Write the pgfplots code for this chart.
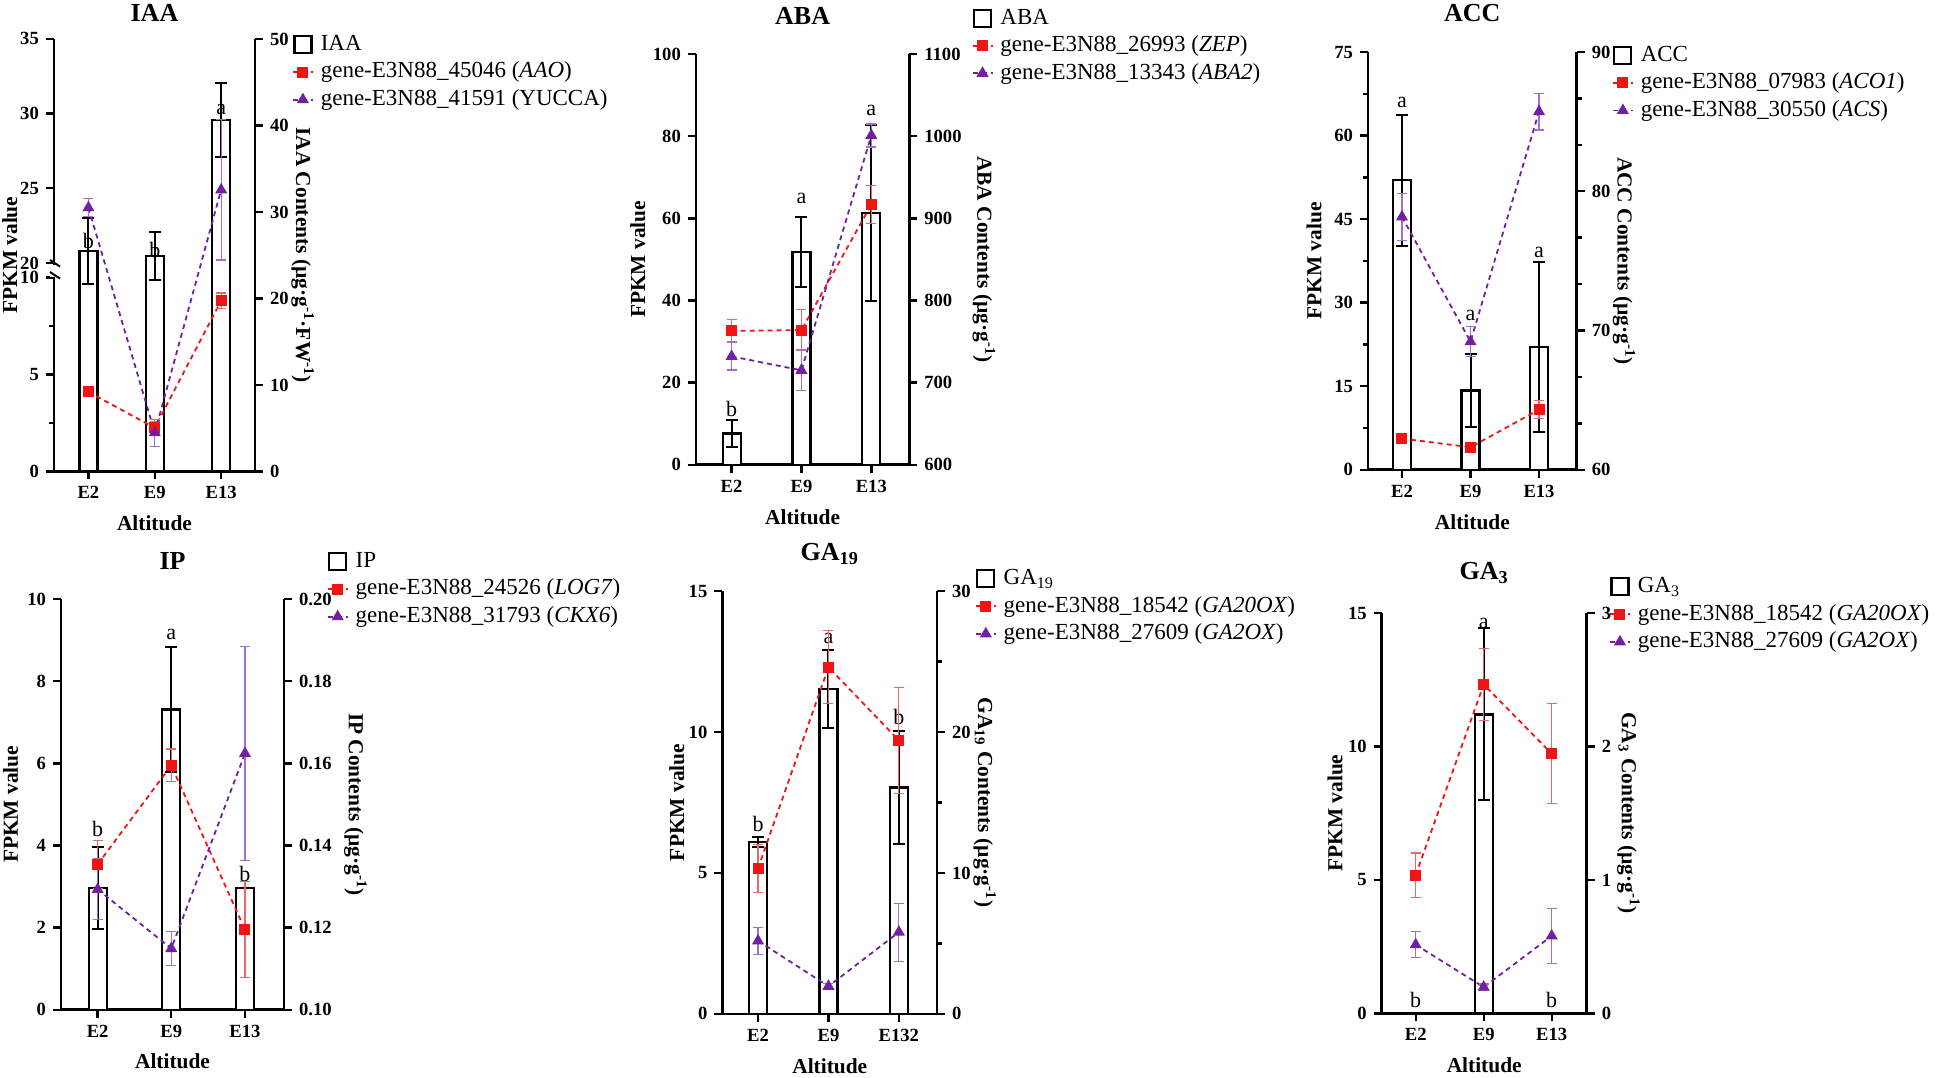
\documentclass[border=0pt]{standalone}
\usepackage{pgfplots}
\pgfplotsset{compat=1.18}
\usepackage{fontspec}
\setmainfont{Liberation Serif}
\definecolor{myred}{RGB}{240,20,20}
\definecolor{myredl}{RGB}{228,105,105}
\definecolor{mypur}{RGB}{112,32,160}
\definecolor{mypurl}{RGB}{160,110,205}
\tikzset{letter/.style={font=\fontsize{11}{13}\selectfont, anchor=center, inner sep=0pt}}
\pgfplotsset{
  base/.style={
    scale only axis,
    axis line style={line width=1.3pt},
    tick style={line width=1.2pt, black},
    major tick length=4pt, minor tick length=2.5pt,
    tick align=outside,
    tick label style={font=\fontsize{9.3}{10}\selectfont\bfseries},
    /pgf/number format/assume math mode=true,
    /pgf/number format/set thousands separator={},
    label style={font=\fontsize{10.7}{12}\selectfont\bfseries},
    title style={font=\fontsize{13}{14}\selectfont\bfseries, at={(0.5,1)}, anchor=center},
    xtick={0,1,2},
  },
  barax/.style={base, axis x line*=bottom, axis y line*=right,
    xticklabels={E2,E9,E13}, xlabel=Altitude,
    xlabel style={at={(axis description cs:0.5,0)}, anchor=center, yshift=-26pt},
    legend style={draw=none, fill=none, anchor=north west, inner sep=0pt, outer sep=0pt,
      font=\fontsize{11.5}{13}\selectfont, row sep=1.5pt,
      nodes={inner sep=0.5pt, text height=8.5pt, text depth=2.75pt},
      /tikz/every odd column/.append style={column sep=3pt}},
    legend cell align=left,
  },
  lineax/.style={base, axis x line=none, axis y line*=left, ylabel={FPKM value}},
  barplot/.style={ybar, bar width=9pt, draw=black, fill=white, line width=1.1pt,
    legend image code/.code={\draw[black, line width=1.1pt, fill=white] (0.75pt,-4.25pt) rectangle (9.25pt,4.25pt);},
    error bars/y dir=both, error bars/y explicit,
    error bars/error bar style={line width=1pt, black},
    error bars/error mark options={rotate=90, mark size=3pt, line width=1pt, black}},
  redline/.style={color=myred, line width=0.9pt, dash pattern=on 2.5pt off 2pt, mark=square*, mark size=2.3pt, mark options={solid, fill=myred}, sharp plot,
    legend image code/.code={\draw[mark repeat=2, mark phase=2, ##1] plot coordinates {(0pt,0pt) (5pt,0pt) (10pt,0pt)};}},
  purline/.style={color=mypur, line width=0.9pt, dash pattern=on 2.5pt off 2pt, mark=triangle*, mark size=2.6pt, mark options={solid, fill=mypur}, sharp plot,
    legend image code/.code={\draw[mark repeat=2, mark phase=2, ##1] plot coordinates {(0pt,0pt) (5pt,0pt) (10pt,0pt)};}},
  rederr/.style={error bars/y dir=both, error bars/y explicit,
    error bars/error bar style={solid, line width=0.6pt, myredl},
    error bars/error mark options={solid, rotate=90, mark size=2.5pt, line width=0.6pt, myredl}},
  purerr/.style={error bars/y dir=both, error bars/y explicit,
    error bars/error bar style={solid, line width=0.6pt, mypurl},
    error bars/error mark options={solid, rotate=90, mark size=2.5pt, line width=0.6pt, mypurl}},
}
\begin{document}
\begin{tikzpicture}
\path[use as bounding box] (0,0) rectangle (972pt,538.5pt);

% ================= IAA =================
\begin{axis}[barax, at={(26.95pt,302.75pt)}, anchor=south west, width=100.55pt, height=216.3pt,
  xmin=-0.52, xmax=2.51, ymin=0, ymax=50, ytick={0,10,20,30,40,50},
  title={IAA}, title style={yshift=7pt},
  ylabel={IAA Contents (µg·g\textsuperscript{-1}·FW\textsuperscript{-1})},
  ylabel style={at={(axis description cs:1.237,0.5)}, anchor=center, rotate=180},
  legend style={at={(axis description cs:1.184,1.015)}}]
\addplot[barplot] table[x=x,y=y,y error=e]{
x y e
0 25.5 3.8
1 24.9 2.8
2 40.6 4.3
};
\addlegendentry{IAA}
\addlegendimage{redline}\addlegendentry{gene-E3N88\_45046 (\textit{AAO})}
\addlegendimage{purline}\addlegendentry{gene-E3N88\_41591 (YUCCA)}
\node[letter] at (axis cs:0,26.6) {b};
\node[letter] at (axis cs:1,25.6) {b};
\node[letter] at (axis cs:2,41.8) {a};
\end{axis}
% left axis is broken between 10 and 20: y coord trafo maps the two segments;
% error bars are added after the trafo, so errors of the upper segment are given
% in its compressed scale (x0.770): 0.6 -> 0.46, 4.7 -> 3.62
\begin{axis}[lineax, at={(26.95pt,302.75pt)}, anchor=south west, width=100.55pt, height=216.3pt,
  xmin=-0.52, xmax=2.51, ymin=0, ymax=35,
  y coord trafo/.code={\pgfmathparse{ifthenelse(#1<15,#1,10.747+(#1-20)*0.770)}},
  y coord inv trafo/.code={\pgfmathparse{ifthenelse(#1<10.747,#1,20+(#1-10.747)/0.770)}},
  ytick={0,5,10,20,25,30,35}, yticklabels={0,5,10,20,25,30,35}, minor ytick={2.5,7.5},
  ylabel style={at={(axis description cs:-0.219,0.5)}, anchor=center}]
\addplot[redline, rederr] table[x=x,y=y,y error=e]{
x y e
0 4.1 0.2
1 2.25 0.3
2 8.8 0.4
};
\addplot[purline, purerr] table[x=x,y=y,y error=e]{
x y e
0 23.7 0.46
1 2.0 0.7
2 24.9 3.62
};
\end{axis}
\fill[white] (25pt,400.2pt) rectangle (29pt,406.2pt);
\draw[line width=1pt] (25pt,408.5pt) -- (30pt,405.2pt);
\draw[line width=1pt] (25pt,402.5pt) -- (30pt,399.2pt);

% ================= ABA =================
\begin{axis}[barax, at={(347.95pt,306.1pt)}, anchor=south west, width=106.7pt, height=205.35pt,
  xmin=-0.511, xmax=2.544, ymin=600, ymax=1100, ytick={600,700,800,900,1000,1100},
  title={ABA}, title style={yshift=13pt},
  ylabel={ABA Contents (µg·g\textsuperscript{-1})},
  ylabel style={at={(axis description cs:1.35,0.5)}, anchor=center, rotate=180},
  legend style={at={(axis description cs:1.292,1.117)}}]
\addplot[barplot] table[x=x,y=y,y error=e]{
x y e
0 638 16.5
1 859 43
2 907 107
};
\addlegendentry{ABA}
\addlegendimage{redline}\addlegendentry{gene-E3N88\_26993 (\textit{ZEP})}
\addlegendimage{purline}\addlegendentry{gene-E3N88\_13343 (\textit{ABA2})}
\node[letter] at (axis cs:0,668) {b};
\node[letter] at (axis cs:1,924) {a};
\node[letter] at (axis cs:2,1032) {a};
\end{axis}
\begin{axis}[lineax, at={(347.95pt,306.1pt)}, anchor=south west, width=106.7pt, height=205.35pt,
  xmin=-0.511, xmax=2.544, ymin=0, ymax=100, ytick={0,20,40,60,80,100},
  ylabel style={at={(axis description cs:-0.272,0.5)}, anchor=center}]
\addplot[redline, rederr] table[x=x,y=y,y error=e]{
x y e
0 32.6 2.7
1 32.8 5
2 63.4 4.6
};
\addplot[purline, purerr] table[x=x,y=y,y error=e]{
x y e
0 26.4 3.3
1 23.0 5
2 80.2 2.8
};
\end{axis}

% ================= ACC =================
\begin{axis}[barax, at={(684pt,303.6pt)}, anchor=south west, width=104.35pt, height=208.9pt,
  xmin=-0.496, xmax=2.55, ymin=60, ymax=90, ytick={60,70,80,90}, minor y tick num=2,
  title={ACC}, title style={yshift=13.5pt},
  ylabel={ACC Contents (µg·g\textsuperscript{-1})},
  ylabel style={at={(axis description cs:1.227,0.5)}, anchor=center, rotate=180},
  legend style={at={(axis description cs:1.169,1.021)}}]
\addplot[barplot] table[x=x,y=y,y error=e]{
x y e
0 80.8 4.7
1 65.7 2.65
2 68.8 6.1
};
\addlegendentry{ACC}
\addlegendimage{redline}\addlegendentry{gene-E3N88\_07983 (\textit{ACO1})}
\addlegendimage{purline}\addlegendentry{gene-E3N88\_30550 (\textit{ACS})}
\node[letter] at (axis cs:0,86.4) {a};
\node[letter] at (axis cs:1,71.1) {a};
\node[letter] at (axis cs:2,75.6) {a};
\end{axis}
\begin{axis}[lineax, at={(684pt,303.6pt)}, anchor=south west, width=104.35pt, height=208.9pt,
  xmin=-0.496, xmax=2.55, ymin=0, ymax=75, ytick={0,15,30,45,60,75}, minor y tick num=1,
  ylabel style={at={(axis description cs:-0.259,0.5)}, anchor=center}]
\addplot[redline, rederr] table[x=x,y=y,y error=e]{
x y e
0 5.6 0.4
1 4.05 0.4
2 10.8 1.6
};
\addplot[purline, purerr] table[x=x,y=y,y error=e]{
x y e
0 45.4 4.2
1 23.0 2.7
2 64.3 3.3
};
\end{axis}

% ================= IP =================
\begin{axis}[barax, at={(30.5pt,33.65pt)}, anchor=south west, width=111.5pt, height=205.3pt,
  xmin=-0.497, xmax=2.53, ymin=0.10, ymax=0.20, ytick={0.10,0.12,0.14,0.16,0.18,0.20},
  yticklabel style={/pgf/number format/.cd, fixed, fixed zerofill, precision=2},
  title={IP}, title style={yshift=13.2pt},
  ylabel={IP Contents (µg·g\textsuperscript{-1})},
  ylabel style={at={(axis description cs:1.32,0.5)}, anchor=center, rotate=180},
  legend style={at={(axis description cs:1.192,1.121)}}]
\addplot[barplot] table[x=x,y=y,y error=e]{
x y e
0 0.1297 0.0100
1 0.1731 0.0153
2 0.1297 0
};
\addlegendentry{IP}
\addlegendimage{redline}\addlegendentry{gene-E3N88\_24526 (\textit{LOG7})}
\addlegendimage{purline}\addlegendentry{gene-E3N88\_31793 (\textit{CKX6})}
\node[letter] at (axis cs:0,0.1439) {b};
\node[letter] at (axis cs:1,0.1915) {a};
\node[letter] at (axis cs:2,0.1331) {b};
\end{axis}
\begin{axis}[lineax, at={(30.5pt,33.65pt)}, anchor=south west, width=111.5pt, height=205.3pt,
  xmin=-0.497, xmax=2.53, ymin=0, ymax=10, ytick={0,2,4,6,8,10},
  ylabel style={at={(axis description cs:-0.226,0.5)}, anchor=center}]
\addplot[redline, rederr] table[x=x,y=y,y error=e]{
x y e
0 3.54 0.58
1 5.95 0.4
2 1.95 1.17
};
\addplot[purline, purerr] table[x=x,y=y,y error=e]{
x y e
0 2.93 0.74
1 1.49 0.42
2 6.24 2.6
};
\end{axis}

% ================= GA19 =================
\begin{axis}[barax, at={(361.2pt,31.55pt)}, anchor=south west, width=107.35pt, height=211.4pt,
  xmin=-0.506, xmax=2.543, ymin=0, ymax=30, ytick={0,10,20,30}, minor y tick num=1,
  xticklabels={E2,E9,E132},
  title={GA\textsubscript{19}}, title style={yshift=12.7pt},
  ylabel={GA\textsubscript{19} Contents (µg·g\textsuperscript{-1})},
  ylabel style={at={(axis description cs:1.222,0.5)}, anchor=center, rotate=180},
  legend style={at={(axis description cs:1.176,1.058)}}]
\addplot[barplot] table[x=x,y=y,y error=e]{
x y e
0 12.2 0.38
1 23.07 2.78
2 16.06 4.04
};
\addlegendentry{GA\textsubscript{19}}
\addlegendimage{redline}\addlegendentry{gene-E3N88\_18542 (\textit{GA20OX})}
\addlegendimage{purline}\addlegendentry{gene-E3N88\_27609 (\textit{GA2OX})}
\node[letter] at (axis cs:0,13.5) {b};
\node[letter] at (axis cs:1,26.66) {a};
\node[letter] at (axis cs:2,21.09) {b};
\end{axis}
\begin{axis}[lineax, at={(361.2pt,31.55pt)}, anchor=south west, width=107.35pt, height=211.4pt,
  xmin=-0.506, xmax=2.543, ymin=0, ymax=15, ytick={0,5,10,15},
  ylabel style={at={(axis description cs:-0.212,0.5)}, anchor=center}]
\addplot[redline, rederr] table[x=x,y=y,y error=e]{
x y e
0 5.16 0.85
1 12.3 1.3
2 9.7 1.87
};
\addplot[purline, purerr] table[x=x,y=y,y error=e]{
x y e
0 2.59 0.48
1 0.98 0.1
2 2.9 1.03
};
\end{axis}

% ================= GA3 =================
\begin{axis}[barax, at={(690.85pt,31.85pt)}, anchor=south west, width=102.5pt, height=200.15pt,
  xmin=-0.5, xmax=2.515, ymin=0, ymax=3, ytick={0,1,2,3},
  title={GA\textsubscript{3}}, title style={yshift=14pt},
  ylabel={GA\textsubscript{3} Contents (µg·g\textsuperscript{-1})},
  ylabel style={at={(axis description cs:1.204,0.5)}, anchor=center, rotate=180},
  legend style={at={(axis description cs:1.109,1.096)}}]
\addplot[barplot] table[x=x,y=y,y error=e]{
x y e
0 0 0
1 2.24 0.645
2 0 0
};
\addlegendentry{GA\textsubscript{3}}
\addlegendimage{redline}\addlegendentry{gene-E3N88\_18542 (\textit{GA20OX})}
\addlegendimage{purline}\addlegendentry{gene-E3N88\_27609 (\textit{GA2OX})}
\node[letter] at (axis cs:0,0.102) {b};
\node[letter] at (axis cs:1,2.92) {a};
\node[letter] at (axis cs:2,0.102) {b};
\end{axis}
\begin{axis}[lineax, at={(690.85pt,31.85pt)}, anchor=south west, width=102.5pt, height=200.15pt,
  xmin=-0.5, xmax=2.515, ymin=0, ymax=15, ytick={0,5,10,15},
  ylabel style={at={(axis description cs:-0.228,0.5)}, anchor=center}]
\addplot[redline, rederr] table[x=x,y=y,y error=e]{
x y e
0 5.18 0.83
1 12.32 1.35
2 9.73 1.88
};
\addplot[purline, purerr] table[x=x,y=y,y error=e]{
x y e
0 2.57 0.49
1 0.98 0.12
2 2.9 1.03
};
\end{axis}
\end{tikzpicture}
\end{document}
